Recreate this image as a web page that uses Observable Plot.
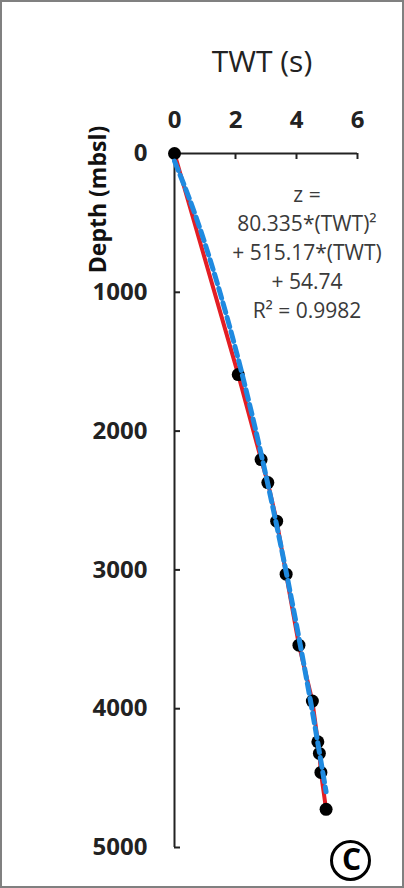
<!DOCTYPE html>
<html><head><meta charset="utf-8">
<script src="https://cdn.jsdelivr.net/npm/d3@7"></script>
<script src="https://cdn.jsdelivr.net/npm/@observablehq/plot@0.6"></script>
<style>
body{margin:0;background:#fff;}
#wrap{position:relative;width:404px;height:888px;overflow:hidden;background:#fff;}
#border{position:absolute;left:0;top:0;width:404px;height:888px;box-sizing:border-box;border:2px solid #808080;pointer-events:none;}
</style></head><body>
<div id="wrap"><div id="chart"></div><div id="border"></div></div>
<script>
// Measured data points (TWT in s, depth in mbsl)
const twt   = [0, 2.09, 2.84, 3.06, 3.35, 3.66, 4.08, 4.52, 4.70, 4.75, 4.80, 4.97];
const depth = [0, 1593, 2205, 2371, 2649, 3031, 3542, 3945, 4238, 4322, 4459, 4725];
// Fitted trend curve
const fitTwt   = [0, 0.5, 1, 1.5, 2, 2.5, 3, 3.5, 4, 4.5, 4.97];
const fitDepth = [55, 333, 650, 1008, 1405, 1843, 2321, 2839, 3397, 3995, 4599];
const xTicks = [0, 2, 4, 6];
const yTicks = [0, 1000, 2000, 3000, 4000, 5000];
const xTitle = "TWT (s)";
const yTitle = "Depth (mbsl)";
const annotation = ["z =", "80.335*(TWT)²", "+ 515.17*(TWT)", "+ 54.74", "R² = 0.9982"];
const badge = "C";

const W = 404, H = 888;
const mL = 174, mR = 47, mT = 153, mB = 41;
const frameW = W - mL - mR, frameH = H - mT - mB;
const points = twt.map((t, i) => ({t, z: depth[i]}));
const fit = fitTwt.map((t, i) => ({t, z: fitDepth[i]}));
const axisColor = "#222";

const plot = Plot.plot({
  width: W, height: H,
  marginLeft: mL, marginRight: mR, marginTop: mT, marginBottom: mB,
  style: {fontFamily: "'Open Sans', sans-serif", background: "transparent", color: "#222", overflow: "visible"},
  x: {domain: [0, 6]},
  y: {domain: [0, 5000], reverse: true},
  marks: [
    Plot.axisX(xTicks, {anchor: "top", tickSize: 0, tickPadding: 26, fontSize: 24, fontWeight: 700, label: null, tickFormat: d3.format("d")}),
    Plot.axisY(yTicks, {anchor: "left", tickSize: 0, tickPadding: 27, fontSize: 24, fontWeight: 700, label: null, tickFormat: d3.format("d")}),
    Plot.ruleY([0], {stroke: axisColor, strokeWidth: 2}),
    Plot.ruleX([0], {stroke: axisColor, strokeWidth: 2}),
    Plot.ruleX(xTicks, {x: d => d, insetBottom: frameH - 6, stroke: axisColor, strokeWidth: 2}),
    Plot.ruleY(yTicks, {y: d => d, insetRight: frameW - 6, stroke: axisColor, strokeWidth: 2}),
    Plot.line(points, {x: "t", y: "z", stroke: "#e31e24", strokeWidth: 4}),
    Plot.dot(points, {x: "t", y: "z", r: 6.5, fill: "#000"}),
    Plot.line(fit, {x: "t", y: "z", stroke: "#1f8ae0", strokeWidth: 5, strokeDasharray: "10,5", curve: "natural"}),
    Plot.text([annotation.join("\n")], {text: d => d, frameAnchor: "top", textAnchor: "middle", dx: 41, dy: 97.5, lineAnchor: "middle", lineHeight: 1.38, fontSize: 21, fill: "#3a3a3a"}),
    Plot.text([xTitle], {text: d => d, frameAnchor: "top", textAnchor: "middle", dx: -4, dy: -91, lineAnchor: "middle", fontSize: 30, fill: "#222"}),
    Plot.text([yTitle], {text: d => d, frameAnchor: "top-left", textAnchor: "middle", dx: -75.5, dy: 46, rotate: -90, lineAnchor: "middle", fontSize: 23, fontWeight: 700, fill: "#111"}),
    Plot.dot([badge], {frameAnchor: "bottom-right", dx: -7, dy: 13, r: 19, stroke: "#000", strokeWidth: 3, fill: "none"}),
    Plot.text([badge], {text: d => d, frameAnchor: "bottom-right", textAnchor: "middle", dx: -6, dy: 13, lineAnchor: "middle", fontSize: 30, fontWeight: 700, fill: "#000"})
  ]
});
document.getElementById("chart").appendChild(plot);
</script>
</body></html>
